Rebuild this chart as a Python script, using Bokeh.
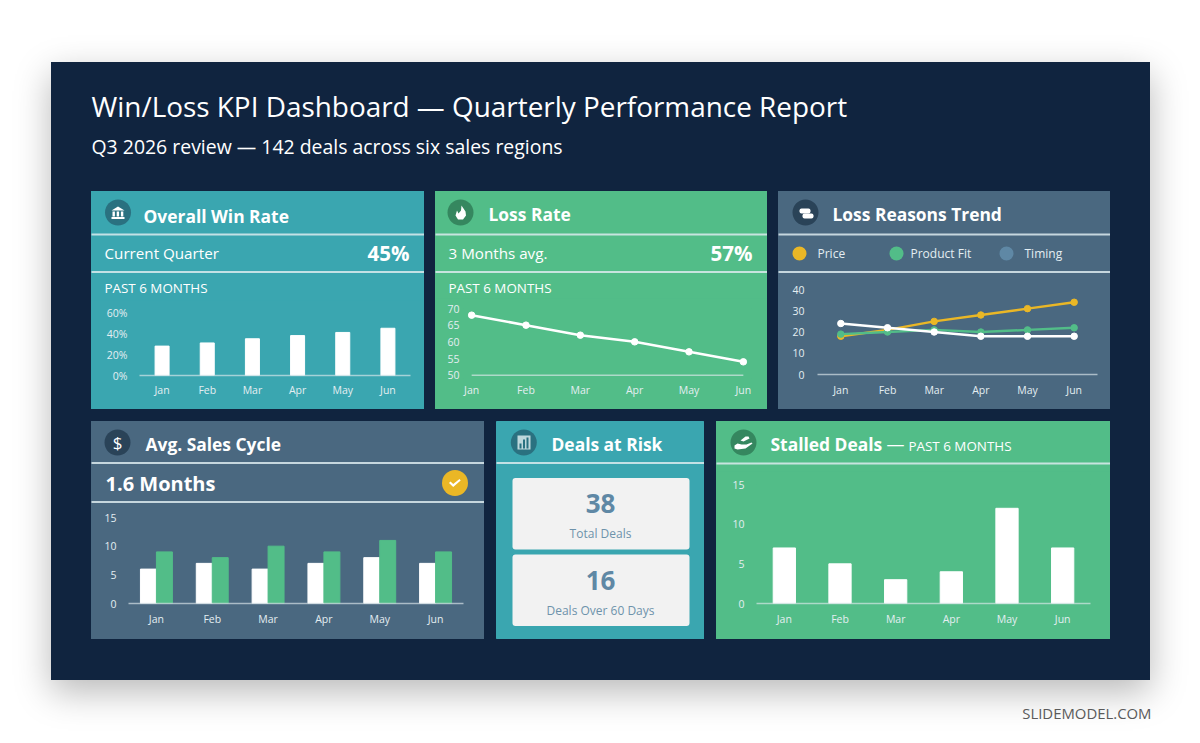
from bokeh.core.properties import value
from bokeh.embed import file_html
from bokeh.layouts import column, row
from bokeh.models import ColumnDataSource, FactorRange, FixedTicker, Range1d, Spacer
from bokeh.plotting import figure
from bokeh.resources import INLINE
from bokeh.transform import dodge

months = ["Jan", "Feb", "Mar", "Apr", "May", "Jun"]
win_rate = [28, 31, 35, 38, 41, 45]
win_ticks = [0, 20, 40, 60]
win_tick_labels = ["0%", "20%", "40%", "60%"]
loss_rate = [68, 65, 62, 60, 57, 54]
loss_ticks = [50, 55, 60, 65, 70]
price = [18, 21, 25, 28, 31, 34]
product_fit = [19, 20, 21, 20, 21, 22]
timing = [24, 22, 20, 18, 18, 18]
reason_ticks = [0, 10, 20, 30, 40]
cycle_white = [6, 7, 6, 7, 8, 7]
cycle_green = [9, 8, 10, 9, 11, 9]
stalled = [7, 5, 3, 4, 12, 7]
count_ticks = [0, 5, 10, 15]

NAVY = "#10243f"
TEAL = "#3aa6b0"
GREEN = "#52bd88"
SLATE = "#4a6880"
GOLD = "#eab726"
BLUE = "#5f88a5"
WHITE = "#ffffff"
TICK = "#e4eef2"
RULE = "#dcebee"
FONT = "Open Sans"


class Sheet:
    """A figure with no axes whose data units are the page's pixels (y pointing down)."""

    def __init__(self, x0, y0, w, h, color=None):
        self.p = figure(width=w, height=h, output_backend="svg", toolbar_location=None,
                        x_range=Range1d(x0 + 1, x0 + w + 1), y_range=Range1d(y0 + h + 1, y0 + 1),
                        x_axis_type=None, y_axis_type=None, outline_line_color=color,
                        outline_line_alpha=0 if color is None else 1, frame_align=False,
                        min_border=0, min_border_left=0, min_border_right=0,
                        min_border_top=0, min_border_bottom=0)
        self.p.grid.visible = False
        if color is None:
            self.p.border_fill_alpha = 0
            self.p.background_fill_alpha = 0
        else:
            self.p.border_fill_color = color
            self.p.background_fill_color = color

    def text(self, x, y, s, size, bold=False, color=WHITE, align="left"):
        self.p.text(x=[x], y=[y], text=[s], text_font=value(FONT), text_font_size=f"{size}px",
                    text_color=color, text_font_style="bold" if bold else "normal",
                    text_align=align, text_baseline="middle")

    def box(self, l, t, r, b, color=WHITE, alpha=1.0, radius=0):
        self.p.quad(left=[l], right=[r], top=[t], bottom=[b], fill_color=color, fill_alpha=alpha,
                    line_color=None, border_radius=radius)

    def dot(self, cx, cy, r, color):
        self.p.circle(x=[cx], y=[cy], radius=r, fill_color=color, line_color=None)

    def poly(self, pts, color=WHITE):
        self.p.patch([a for a, _ in pts], [b for _, b in pts], fill_color=color, line_color=None)

    def rule(self, x1, x2, y):
        self.box(x1, y - 0.9, x2 + 2, y + 0.9, RULE, 0.85)


def chart(x0, y0, w, h, color, frame, y_range, ticks, standoff, x_standoff, overrides=None, x_range=None):
    """A chart figure under a card's header; frame = left, top, right, bottom in page px."""
    p = figure(width=w, height=h, output_backend="svg", toolbar_location=None,
               min_border_left=frame[0] - x0, min_border_top=frame[1] - y0,
               min_border_right=x0 + w - frame[2], min_border_bottom=y0 + h - frame[3],
               border_fill_color=color, background_fill_color=color, outline_line_color=color,
               frame_align=False,
               x_range=x_range or FactorRange(factors=months), y_range=y_range)
    p.grid.visible = False
    ax, ay = p.xaxis[0], p.yaxis[0]
    for a in (ax, ay):
        a.major_tick_line_color = None
        a.minor_tick_line_color = None
        a.major_tick_out = 0
        a.major_tick_in = 0
        a.minor_tick_out = 0
        a.major_label_text_color = TICK
        a.major_label_text_font = FONT
        a.major_label_text_font_size = "10.5px"
    ay.axis_line_color = None
    ax.axis_line_color = "#dfe9ec"
    ax.axis_line_alpha = 0.65
    ax.axis_line_width = 1.5
    ax.major_label_standoff = x_standoff
    ay.major_label_standoff = standoff
    ay.ticker = FixedTicker(ticks=ticks)
    if overrides:
        ay.major_label_overrides = overrides
    return p


def card(color, *children):
    return column(*children, spacing=0, styles={"background-color": color})


# ---------- card 1: overall win rate
h1 = Sheet(91, 191, 333, 109, TEAL)
h1.rule(91, 424, 235)
h1.rule(91, 424, 272.5)
h1.dot(118.5, 213, 13, "#2a7180")
h1.text(144, 216, "Overall Win Rate", 17.4, True)
h1.text(105, 253, "Current Quarter", 15.2)
h1.text(410, 253, "45%", 20.5, True, align="right")
h1.text(105, 288, "PAST 6 MONTHS", 13.4)
h1.poly([(118.5, 207), (125, 211), (112, 211)])
for bx in (113, 117.2, 121.4):
    h1.box(bx, 212, bx + 2.4, 217)
h1.box(112, 217.5, 125, 219.5)
p1 = chart(91, 300, 333, 109, TEAL, (139, 312, 410, 375), Range1d(0, 60), win_ticks, 12, 7,
           dict(zip(win_ticks, win_tick_labels)))
p1.vbar(x=months, top=win_rate, width=0.31, color=WHITE)

# ---------- card 2: loss rate
h2 = Sheet(435, 191, 332, 107, GREEN)
h2.rule(435, 767, 235)
h2.rule(435, 767, 272.5)
h2.dot(461, 213, 13, "#35875f")
h2.text(489, 214, "Loss Rate", 17.4, True)
h2.text(449, 253, "3 Months avg.", 15.2)
h2.text(753, 253, "57%", 20.5, True, align="right")
h2.text(449, 288, "PAST 6 MONTHS", 13.4)
h2.poly([(462, 206), (466, 212), (466.5, 216), (463.5, 220), (458.5, 220), (456, 216),
         (457.5, 211), (459, 214), (461.5, 211)])
x2 = FactorRange(factors=months, range_padding=-0.35, range_padding_units="absolute")
p2 = chart(435, 298, 332, 111, GREEN, (463, 308, 751, 378), Range1d(49, 70), loss_ticks, 4, 4, x_range=x2)
p2.xaxis[0].axis_line_color = None
p2.segment(x0=[months[0]], y0=[loss_ticks[0]], x1=[months[-1]], y1=[loss_ticks[0]],
           line_color="#dfe9ec", line_alpha=0.65, line_width=1.5)
p2.line(months, loss_rate, line_color=WHITE, line_width=2.5)
p2.scatter(months, loss_rate, size=6.5, color=WHITE)

# ---------- card 3: loss reasons trend
h3 = Sheet(778, 191, 332, 88, SLATE)
h3.rule(778, 1110, 235)
h3.rule(778, 1110, 272.5)
h3.dot(806, 213, 13, "#2a4358")
h3.text(833, 214, "Loss Reasons Trend", 17.4, True)
h3.dot(800, 254, 7, GOLD)
h3.dot(897, 254, 7, GREEN)
h3.dot(1007, 254, 7, BLUE)
h3.text(818, 254, "Price", 12, color=TICK)
h3.text(911, 254, "Product Fit", 12, color=TICK)
h3.text(1025, 254, "Timing", 12, color=TICK)
h3.box(800, 209, 811, 214, WHITE, radius=2)
h3.box(803, 214, 814, 219, WHITE, radius=2)
p3 = chart(778, 279, 332, 130, SLATE, (817, 289, 1097, 374), Range1d(0, 40), reason_ticks, 13, 8)
for series, col in ((price, GOLD), (product_fit, GREEN), (timing, WHITE)):
    p3.line(months, series, line_color=col, line_width=2.5)
    p3.scatter(months, series, size=6.5, color=col)

# ---------- card 4: average sales cycle
h4 = Sheet(91, 421, 393, 86, SLATE)
h4.rule(91, 484, 463.5)
h4.rule(91, 484, 502.5)
h4.dot(118, 443, 13, "#2a4358")
h4.text(118, 443, "$", 17, color=WHITE, align="center")
h4.text(146, 444, "Avg. Sales Cycle", 17.4, True)
h4.text(106, 484, "1.6 Months", 20, True)
h4.dot(455.5, 483.5, 13, GOLD)
h4.poly([(449.5, 483.5), (451, 482), (453.7, 484.6), (460, 479.5), (461.2, 481), (453.7, 487.5)])
p4 = chart(91, 507, 393, 132, SLATE, (128, 517, 463, 603), Range1d(0, 15), count_ticks, 12, 8)
src4 = ColumnDataSource(dict(m=months, a=cycle_white, b=cycle_green))
p4.vbar(x=dodge("m", -0.143, range=p4.x_range), top="a", width=0.286, color=WHITE, source=src4)
p4.vbar(x=dodge("m", 0.143, range=p4.x_range), top="b", width=0.286, color=GREEN, source=src4)

# ---------- card 5: deals at risk
h5 = Sheet(496, 421, 208, 218, TEAL)
h5.rule(496, 704, 463.5)
h5.dot(524.3, 443, 13, "#2a7180")
h5.text(552, 444, "Deals at Risk", 17.4, True)
h5.box(513, 478.5, 690, 550, "#f2f2f2", radius=3)
h5.box(513, 555, 690, 626.5, "#f2f2f2", radius=3)
h5.text(601, 504, "38", 26, True, BLUE, "center")
h5.text(601, 534, "Total Deals", 12, False, "#6e93ab", "center")
h5.text(601, 581, "16", 26, True, BLUE, "center")
h5.text(601, 611, "Deals Over 60 Days", 12, False, "#6e93ab", "center")
h5.box(518, 436, 531, 450, "#cfe3e6", 0.9)
h5.box(520, 444, 522, 449, "#2a7180")
h5.box(523.5, 440, 525.5, 449, "#2a7180")
h5.box(527, 438, 529, 449, "#2a7180")

# ---------- card 6: stalled deals
h6 = Sheet(716, 421, 394, 50, GREEN)
h6.rule(716, 1110, 464)
h6.dot(744, 443, 13, "#35875f")
h6.text(771, 444, "Stalled Deals", 17.4, True)
h6.text(887, 444, "—", 18)
h6.text(909, 446, "PAST 6 MONTHS", 13.4)
h6.poly([(735, 446), (738, 444), (742, 445), (747, 445), (752, 443), (753, 444), (746, 449), (738, 450), (735, 449)])
h6.poly([(741, 441), (746, 437), (749, 437), (750, 439), (746, 441), (744, 442)])
p6 = chart(716, 471, 394, 168, GREEN, (756, 484, 1090, 603), Range1d(0, 15), count_ticks, 12, 8)
p6.vbar(x=months, top=stalled, width=0.4, color=WHITE)

# ---------- page furniture
head = Sheet(51, 62, 1099, 129, NAVY)
head.text(92, 106, "Win/Loss KPI Dashboard — Quarterly Performance Report", 27.9)
head.text(92, 147, "Q3 2026 review — 142 deals across six sales regions", 19.46)

foot = Sheet(0, 680, 1184, 55)
foot.text(1152, 713, "SLIDEMODEL.COM", 14.9, color="#5a5a5a", align="right")

row1 = row(Spacer(width=40), card(TEAL, h1.p, p1), Spacer(width=11),
           card(GREEN, h2.p, p2), Spacer(width=11), card(SLATE, h3.p, p3), spacing=0)
row2 = row(Spacer(width=40), card(SLATE, h4.p, p4), Spacer(width=12),
           h5.p, Spacer(width=12), card(GREEN, h6.p, p6), spacing=0)
panel = column(head.p, row1, Spacer(height=12), row2, Spacer(height=41), spacing=0, width=1099,
               margin=(62, 0, 0, 51),
               styles={"background-color": NAVY, "box-shadow": "0 12px 34px rgba(0,0,0,0.28)"})
root = column(panel, foot.p, spacing=0)
open("out.html", "w").write(file_html(root, INLINE))
